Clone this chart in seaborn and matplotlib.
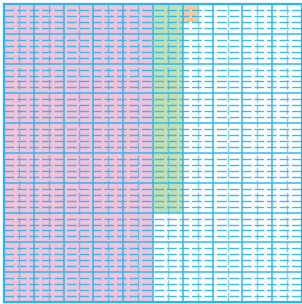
import matplotlib
matplotlib.use("Agg")
import matplotlib.pyplot as plt
import seaborn as sns
from matplotlib.ticker import MultipleLocator

# blocks of the mosaic: left edge, width, height (fraction of the square, from top)
block_names = ["pink", "green", "orange"]
block_left = [0.0, 0.5, 0.6]
block_width = [0.5, 0.1, 0.05]
block_height = [1.0, 0.7, 0.06]
block_colors = ["#f3c3dc", "#c2e0b4", "#fcca9c"]

line_color = "#29b6ec"

sns.set_theme(style="white")

fig = plt.figure(figsize=(3.02, 3.04), dpi=100)
ax = fig.add_axes([4 / 302, 2 / 304, 298 / 302, 298 / 304])

ax.bar(block_left, block_height, width=block_width, align="edge",
       color=block_colors, edgecolor="none", linewidth=0, zorder=1)

ax.set_xlim(0, 1)
ax.set_ylim(1, 0)

ax.xaxis.set_major_locator(MultipleLocator(0.1))
ax.xaxis.set_minor_locator(MultipleLocator(0.05))
ax.yaxis.set_major_locator(MultipleLocator(0.1))
ax.yaxis.set_minor_locator(MultipleLocator(0.02))

ax.set_axisbelow(False)
ax.grid(which="major", color=line_color, linewidth=1.1, linestyle="-", alpha=0.95)
# horizontal minors are strong dashes, vertical minors fainter
ax.yaxis.grid(which="minor", color=line_color, linewidth=1.0, linestyle=(0, (7, 2)), alpha=0.9)
ax.xaxis.grid(which="minor", color=line_color, linewidth=1.0, linestyle=(0, (7, 2)), alpha=0.6)

ax.tick_params(which="both", length=0, labelbottom=False, labelleft=False)
for side in ax.spines.values():
    side.set_color(line_color)
    side.set_linewidth(1.6)
    side.set_zorder(5)

fig.savefig("out.png", dpi=100, facecolor="white")
